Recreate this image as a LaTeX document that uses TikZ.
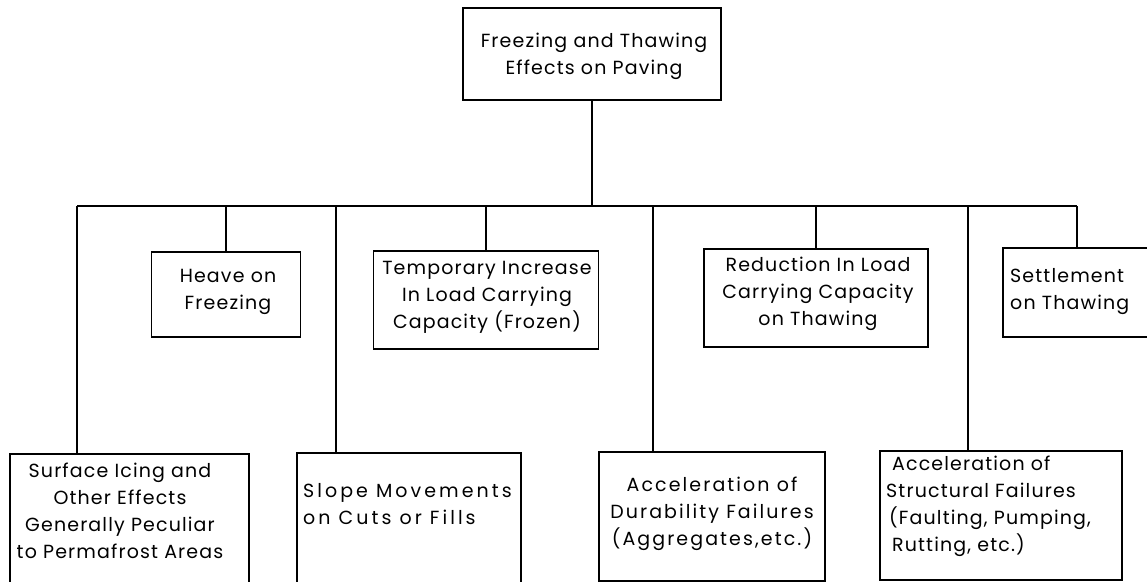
\documentclass[tikz,border=0pt]{standalone}
\usepackage{fontspec}
\setmainfont{Poppins}[LetterSpace=6]
\begin{document}
\begin{tikzpicture}[x=1pt,y=-1pt,
  box/.style={draw=black, line width=1.3pt, rectangle, inner sep=0pt},
  lbl/.style={font=\fontsize{19}{27}\selectfont, inner sep=0pt},
  link/.style={line width=1.3pt}]
\useasboundingbox (0,0) rectangle (1147,581);
\clip (0,0) rectangle (1147,581);
% boxes
\node[box, minimum width=258pt, minimum height=92pt] (top) at (592,54) {};
\node[box, minimum width=149pt, minimum height=85pt] (heave) at (226,294.5) {};
\node[box, minimum width=225pt, minimum height=98pt] (temp) at (486,300) {};
\node[box, minimum width=224pt, minimum height=98pt] (reduc) at (816,298) {};
\node[box, minimum width=148pt, minimum height=89pt] (settle) at (1077,292.5) {};
\node[box, minimum width=239pt, minimum height=132pt] (surface) at (129.5,520) {};
\node[box, minimum width=224pt, minimum height=132pt] (slope) at (409,519) {};
\node[box, minimum width=226pt, minimum height=129pt] (dura) at (712,516.5) {};
\node[box, minimum width=242pt, minimum height=129pt] (struct) at (1001,515.5) {};
% texts
\node[lbl, align=center] (ttop) at (594,56) {Freezing and Thawing\\Effects on Paving};
\node[lbl, align=center] (theave) at (228,292) {Heave on\\Freezing};
\node[lbl, align=center] (ttemp) at (487,297) {Temporary Increase\\In Load Carrying\\Capacity (Frozen)};
\node[lbl, align=center] (treduc) at (818,294) {Reduction In Load\\Carrying Capacity\\on Thawing};
\node[lbl, align=left, anchor=west] (tsettle) at (1010,292) {Settlement\\on Thawing};
\node[lbl, align=center] (tsurface) at (120,511) {Surface Icing and\\Other Effects\\Generally Peculiar\\to Permafrost Areas};
\node[lbl, align=left, anchor=west, font=\fontsize{19}{27}\selectfont\addfontfeature{LetterSpace=16}] (tslope) at (303,504) {Slope Movements\\on Cuts or Fills};
\node[lbl, align=center, font=\fontsize{19}{27}\selectfont\addfontfeature{LetterSpace=11}] (tdura) at (712,514) {Acceleration of\\Durability Failures\\(Aggregates,etc.)};
\node[lbl, align=left, anchor=west] (tstruct) at (886,506) {\hspace*{6pt}Acceleration of\\Structural Failures\\\hspace*{3pt}(Faulting, Pumping,\\\hspace*{6pt}Rutting, etc.)};
% connectors
\coordinate (busL) at (77,206);
\coordinate (busR) at (1077,206);
\coordinate (j1) at (77,206);
\coordinate (j3) at (336,206);
\coordinate (j6) at (653,206);
\coordinate (j8) at (968,206);
\draw[link] (top.south) -- (top.south |- busL);
\draw[link] (busL) -- (busR);
\draw[link] (j1) -- (j1 |- surface.north);
\draw[link] (heave.north) -- (heave.north |- busL);
\draw[link] (j3) -- (j3 |- slope.north);
\draw[link] (temp.north) -- (temp.north |- busL);
\draw[link] (j6) -- (j6 |- dura.north);
\draw[link] (reduc.north) -- (reduc.north |- busL);
\draw[link] (j8) -- (j8 |- struct.north);
\draw[link] (settle.north) -- (settle.north |- busL);
\end{tikzpicture}
\end{document}
